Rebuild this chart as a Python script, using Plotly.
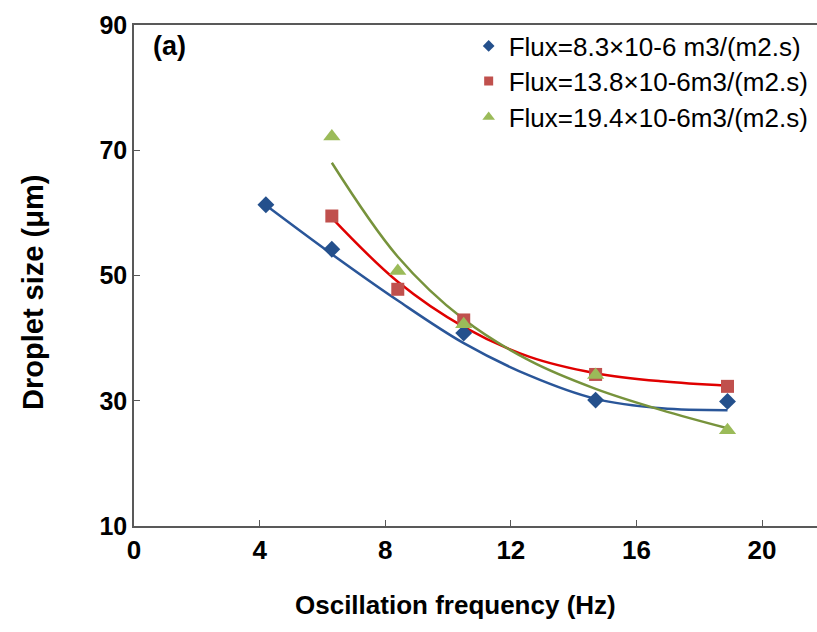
import plotly.graph_objects as go

freq_1 = [4.2, 6.3, 10.5, 14.7, 18.9]
size_1 = [61.3, 54.2, 40.8, 30.1, 29.9]
freq_2 = [6.3, 8.4, 10.5, 14.7, 18.9]
size_2 = [59.5, 47.8, 42.9, 34.2, 32.3]
freq_3 = [6.3, 8.4, 10.5, 14.7, 18.9]
size_3 = [72.2, 50.7, 42.2, 34.1, 25.3]

# Trendline values
trend_x_1 = [4.2, 6.3, 8.4, 10.5, 12.6, 14.7, 16.8, 18.9]
trend_y_1 = [61.2, 53.4, 46.0, 39.2, 34.0, 30.3, 28.8, 28.5]
trend_x_2 = [6.3, 8.4, 10.5, 12.6, 14.7, 16.8, 18.9]
trend_y_2 = [59.2, 49.0, 41.8, 37.0, 34.4, 33.1, 32.4]
trend_x_3 = [6.3, 8.4, 10.5, 12.6, 14.7, 16.8, 18.9]
trend_y_3 = [68.0, 53.0, 43.0, 36.4, 31.9, 28.5, 25.6]

names = ["Flux=8.3×10-6 m3/(m2.s)", "Flux=13.8×10-6m3/(m2.s)", "Flux=19.4×10-6m3/(m2.s)"]
x_ticks = [0, 4, 8, 12, 16, 20]
y_ticks = [10, 30, 50, 70, 90]

marker_colors = ["#24508C", "#C0504D", "#9BBB59"]
line_colors = ["#2A5699", "#E00000", "#77933C"]
symbols = ["diamond", "square", "triangle-up"]
plot_sizes = [13, 13, 15]
legend_sizes = [9, 9, 11]

fig = go.Figure()
trends = [(trend_x_1, trend_y_1), (trend_x_2, trend_y_2), (trend_x_3, trend_y_3)]
for i, (tx, ty) in enumerate(trends):
    fig.add_trace(go.Scatter(x=tx, y=ty, mode="lines", line_shape="spline",
                             line=dict(color=line_colors[i], width=2.5),
                             showlegend=False, hoverinfo="skip"))
series = [(freq_1, size_1), (freq_2, size_2), (freq_3, size_3)]
for i, (fx, fy) in enumerate(series):
    fig.add_trace(go.Scatter(x=fx, y=fy, mode="markers", showlegend=False,
                             marker=dict(symbol=symbols[i], size=plot_sizes[i], color=marker_colors[i])))
# legend entries with smaller symbols
for i in range(3):
    fig.add_trace(go.Scatter(x=[None], y=[None], mode="markers", name=names[i],
                             marker=dict(symbol=symbols[i], size=legend_sizes[i], color=marker_colors[i]),
                             legend="legend" if i == 0 else f"legend{i+1}"))

font_fam = "Liberation Sans, Arial, sans-serif"
leg_common = dict(x=0.49, xanchor="left", yanchor="middle", bgcolor="rgba(0,0,0,0)",
                  font=dict(family=font_fam, size=26, color="#000000"))
fig.update_layout(
    width=817, height=632,
    margin=dict(l=134, r=0, t=25, b=106),
    paper_bgcolor="white", plot_bgcolor="white",
    font=dict(family=font_fam, color="#000000"),
    legend=dict(y=0.958, **leg_common),
    legend2=dict(y=0.888, **leg_common),
    legend3=dict(y=0.816, **leg_common),
    xaxis=dict(range=[0, 21.75], tickvals=x_ticks, ticks="inside", ticklen=6, tickcolor="#595959",
               showline=True, linecolor="#595959", linewidth=1.5, mirror=True, showgrid=False,
               zeroline=False,
               tickfont=dict(family=font_fam, size=26, color="#000000", weight="bold")),
    yaxis=dict(range=[10, 90], tickvals=y_ticks, ticks="inside", ticklen=6, tickcolor="#595959",
               showline=True, linecolor="#595959", linewidth=1.5, showgrid=False, zeroline=False,
               tickfont=dict(family=font_fam, size=25, color="#000000", weight="bold")),
    annotations=[
        dict(text="<b>(a)</b>", xref="paper", yref="paper", x=0.025, y=0.958,
             xanchor="left", yanchor="middle", showarrow=False,
             font=dict(family=font_fam, size=27, color="#000000")),
        dict(text="<b>Oscillation frequency (Hz)</b>", xref="paper", yref="paper",
             x=0.47, y=-0.158, xanchor="center", yanchor="middle", showarrow=False,
             font=dict(family=font_fam, size=26, color="#000000")),
        dict(text="<b>Droplet size (μm)</b>", xref="paper", yref="paper", textangle=-90,
             x=-0.148, y=0.467, xanchor="center", yanchor="middle", showarrow=False,
             font=dict(family=font_fam, size=29, color="#000000")),
    ],
)
fig.write_html("out.html")
